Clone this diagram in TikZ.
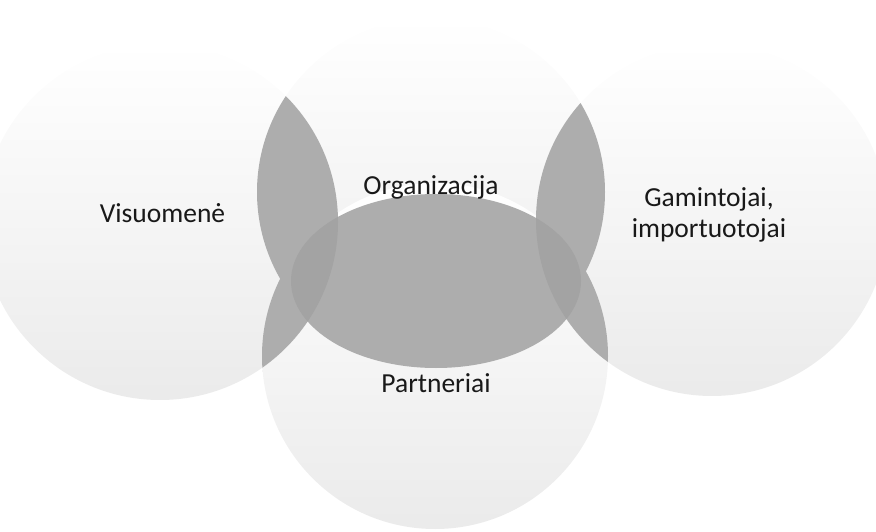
\documentclass[tikz,border=0pt]{standalone}
\usepackage{fontspec}
\setmainfont{Carlito}
\begin{document}
\begin{tikzpicture}[x=1pt,y=-1pt,
  lbl/.style={font=\fontsize{27.5}{31}\selectfont, text=black!90, inner sep=0pt},
  faint/.style={top color=white, bottom color=black!8},
  darkfill/.style={fill=black!32},
  triplefill/.style={fill=black!36}]
\useasboundingbox (0,0) rectangle (876,532);
\clip (0,0) rectangle (876,532);
\coordinate (cT) at (431,192);
\coordinate (cB) at (435,356);
\coordinate (cL) at (160,222);
\coordinate (cR) at (712,220);
\coordinate (cC) at (436,281);
% faint outer circles
\shade[faint] (cT) circle[radius=174];
\shade[faint] (cB) circle[radius=173];
\shade[faint] (cL) circle[radius=178];
\shade[faint] (cR) circle[radius=176];
% overlaps of the side circles with top and bottom circles
\begin{scope}
  \clip (cL) circle[radius=178];
  \fill[darkfill] (cT) circle[radius=174];
  \fill[darkfill] (cB) circle[radius=173];
\end{scope}
\begin{scope}
  \clip (cR) circle[radius=176];
  \fill[darkfill] (cT) circle[radius=174];
  \fill[darkfill] (cB) circle[radius=173];
\end{scope}
% central shape
\fill[darkfill] (cC) ellipse[x radius=145, y radius=87];
\begin{scope}
  \clip (cC) ellipse[x radius=145, y radius=87];
  \fill[triplefill] (cL) circle[radius=178];
  \fill[triplefill] (cR) circle[radius=176];
\end{scope}
% labels
\node[lbl, anchor=base] (org) at (431,195) {Organizacija};
\node[lbl, anchor=base] (vis) at (162.5,222.7) {Visuomenė};
\node[lbl, anchor=base] (gam) at (709,207) {Gamintojai,};
\node[lbl, anchor=base] (imp) at (709,237) {importuotojai};
\node[lbl, anchor=base] (par) at (436,392.5) {Partneriai};
\end{tikzpicture}
\end{document}
